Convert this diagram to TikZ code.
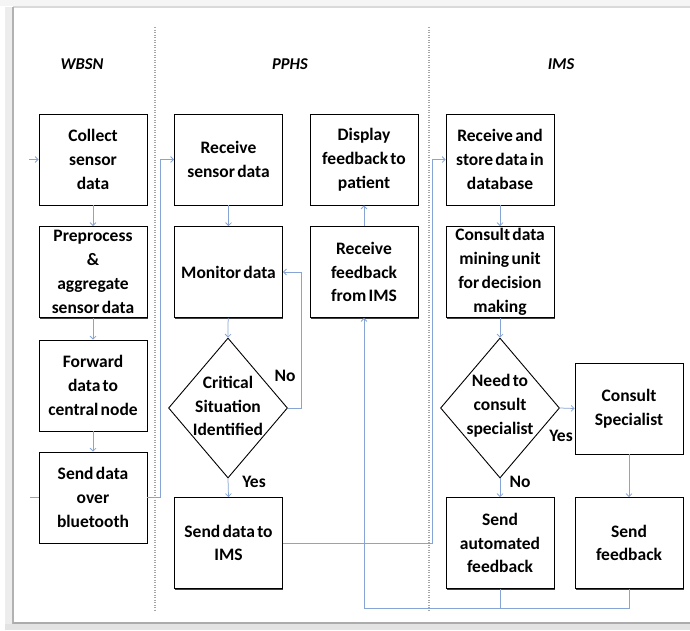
\documentclass[tikz,border=0pt]{standalone}
\usepackage{fontspec}
\setmainfont{Carlito}
\usetikzlibrary{shapes.geometric,arrows.meta,shadows}

\definecolor{flowblue}{RGB}{135,165,212}
\newcommand\bxfont{\fontsize{17.5}{23.8}\selectfont\bfseries\spaceskip=0.13em plus 0.05em\relax}

\tikzset{
  procbox/.style={draw=black, line width=0.9pt, fill=white,
    minimum width=108pt, minimum height=91pt, inner sep=0pt,
    align=center, font=\bxfont,
    drop shadow={shadow xshift=0.7pt, shadow yshift=-1.1pt, fill=black, opacity=0.75}},
  decision/.style={draw=black, line width=0.9pt, fill=white, diamond,
    minimum width=119pt, minimum height=140pt, inner sep=0pt},
  dectext/.style={align=center, font=\bxfont, inner sep=0pt},
  lanetitle/.style={font=\fontsize{16.5}{19}\selectfont\bfseries\itshape},
  branch/.style={font=\bxfont, inner sep=0pt},
  link/.style={draw=flowblue, line width=0.75pt},
  flow/.style={link, -{Straight Barb[length=3pt,width=6pt]}},
  lanesep/.style={draw=gray!70, line width=1.1pt, dash pattern=on 1.1pt off 1.4pt}
}

\begin{document}
\begin{tikzpicture}[x=1pt,y=-1pt]
\useasboundingbox (0,0) rectangle (690,630);

% page frame with its shadow
\fill[gray!8] (0,0) rectangle (690,6);
\draw[gray!30, line width=1.5pt] (13,7) -- (690,7);
\fill[gray!14] (5,7) rectangle (12,630);
\draw[gray!60, line width=1.6pt] (13,7) -- (13,624);
\fill[gray!22] (5,624) rectangle (690,630);
\draw[gray!65, line width=2pt] (13,623) -- (690,623);

% swim lane separators
\draw[lanesep] (155,27) -- (155,610);
\draw[lanesep] (429,27) -- (429,610);

% lane titles
\node[lanetitle] (tw) at (82,64) {WBSN};
\node[lanetitle] (tp) at (290,64) {PPHS};
\node[lanetitle] (ti) at (561,64) {IMS};

% WBSN lane
\node[procbox] (collect) at (93,159.5) {Collect\\sensor\\data};
\node[procbox] (prep)    at (93,272)   {Preprocess\\\&\\aggregate\\sensor data};
\node[procbox] (fwd)     at (93,385.5) {Forward\\data to\\central node};
\node[procbox] (bt)      at (93,497.5) {Send data\\over\\bluetooth};

% PPHS lane
\node[procbox] (rsd)  at (228.5,159.5) {Receive\\sensor data};
\node[procbox] (mon)  at (228.5,272)   {Monitor data};
\node[decision] (crit) at (228,408) {};
\node[dectext] (crittext) at (228,406) {Critical\\Situation\\Identified};
\node[procbox] (sdi)  at (228.5,543)   {Send data to\\IMS};
\node[procbox] (disp) at (364,159.5)   {Display\\feedback to\\patient};
\node[procbox] (rfb)  at (364,272)     {Receive\\feedback\\from IMS};

% IMS lane
\node[procbox] (rstore) at (500,159.5) {Receive and\\store data in\\database};
\node[procbox] (cdm)    at (500,272)   {Consult data\\mining unit\\for decision\\making};
\node[decision] (need)  at (500,408) {};
\node[dectext] (needtext) at (500,406) {Need to\\consult\\specialist};
\node[procbox] (saf)    at (500,543)   {Send\\automated\\feedback};
\node[procbox] (cspec)  at (629,408.5) {Consult\\Specialist};
\node[procbox] (sfb)    at (629,543)   {Send\\feedback};

% free ends and bends
\coordinate (inC)   at (29,159.5);
\coordinate (outL)  at (30,497.5);
\coordinate (bendA) at (432,543);
\coordinate (fbjoin) at (500,608);

% WBSN connectors
\draw[flow] (inC) -- (collect.west);
\draw[flow] (collect) -- (prep);
\draw[flow] (prep) -- (fwd);
\draw[flow] (fwd) -- (bt);
\draw[link] (outL) -- (bt.west);
\draw[flow] (bt.east) -- ++(13,0) |- (rsd.west);

% PPHS connectors
\draw[flow] (rsd) -- (mon);
\draw[flow] (mon) -- (crit.north);
\draw[flow] (crit.east) -- ++(13,0) |- (mon.east);
\draw[flow] (crit.south) -- (sdi.north);
\node[branch] (lno1)  at (285,376) {No};
\node[branch] (lyes1) at (254,482) {Yes};
\draw[flow] (sdi.east) -- (bendA) |- (rstore.west);
\draw[flow] (rfb) -- (disp);

% IMS connectors
\draw[flow] (rstore) -- (cdm);
\draw[flow] (cdm) -- (need.north);
\draw[flow] (need.east) -- (cspec.west);
\draw[flow] (need.south) -- (saf.north);
\node[branch] (lyes2) at (561,436) {Yes};
\node[branch] (lno2)  at (520,482) {No};
\draw[flow] (cspec) -- (sfb);
\draw[link] (sfb.south) |- (fbjoin);
\draw[flow] (saf.south) -- (fbjoin) -| (rfb.south);
\end{tikzpicture}
\end{document}
